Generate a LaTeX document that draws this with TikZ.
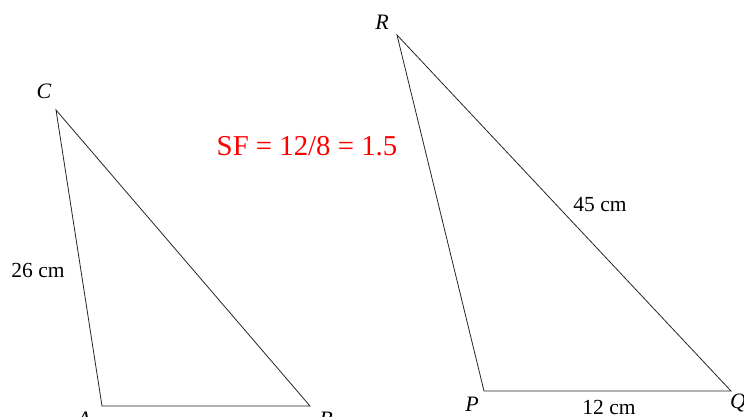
\documentclass[tikz,border=0pt]{standalone}
\usepackage{fontspec}
\setmainfont{Liberation Serif}
\usetikzlibrary{positioning}

\begin{document}
\begin{tikzpicture}[
  x=1pt, y=-1pt,
  side/.style={draw=black!85, line width=0.8pt, line join=miter},
  vtx/.style={font=\fontsize{22}{24}\selectfont\itshape, inner sep=0pt},
  len/.style={font=\fontsize{21.5}{23}\selectfont, inner sep=0pt},
  sf/.style={font=\fontsize{28.8}{31}\selectfont, text=red, inner sep=0pt}
]
\useasboundingbox (0,0) rectangle (744,417);

% small triangle
\coordinate (A) at (102,406);
\coordinate (B) at (310,406);
\coordinate (C) at (56,110);
\draw[side] (A) -- (B) -- (C) -- cycle;

% large triangle
\coordinate (P) at (484,391);
\coordinate (Q) at (731,391);
\coordinate (R) at (397,35);
\draw[side] (P) -- (Q) -- (R) -- cycle;

\node[vtx] (lC) at (44,91) {C};
\node[vtx] (lA) at (84,419) {A};
\node[vtx] (lB) at (326,419) {B};
\node[vtx] (lR) at (382,22) {R};
\node[vtx] (lP) at (472,404) {P};
\node[vtx] (lQ) at (738,403) {Q};

\node[len] (ac) at (38,270) {26 cm};
\node[len] (ab) at (191,428) {8 cm};
\node[len] (rq) at (600,205) {45 cm};
\node[len] (pq) at (609,407) {12 cm};

\node[sf] (scale) at (307,146) {SF = 12/8 = 1.5};
\end{tikzpicture}
\end{document}
